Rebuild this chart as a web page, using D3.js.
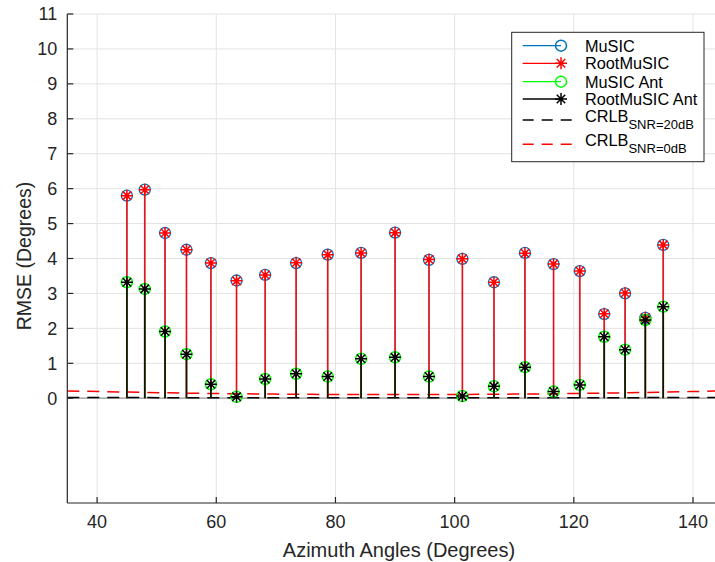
<!DOCTYPE html>
<html>
<head>
<meta charset="utf-8">
<script src="https://cdn.jsdelivr.net/npm/d3@7"></script>
<style>
  html, body { margin: 0; padding: 0; background: #fff; }
  svg { display: block; font-family: "Liberation Sans", Arial, Helvetica, sans-serif; }
</style>
</head>
<body>
<svg id="chart" width="715" height="562"></svg>
<script>
// ---- data ----
const angles = [45, 48, 51.4, 55, 59.1, 63.4, 68.2, 73.4, 78.7, 84.3, 90, 95.7, 101.3, 106.6, 111.8, 116.6, 121, 125.1, 128.6, 132, 135];
const music =        [5.80, 5.97, 4.73, 4.25, 3.87, 3.37, 3.53, 3.87, 4.11, 4.16, 4.74, 3.96, 3.99, 3.32, 4.16, 3.84, 3.64, 2.41, 3.00, 2.30, 4.39];
const rootMusic =    [5.80, 5.97, 4.73, 4.25, 3.87, 3.36, 3.53, 3.88, 4.11, 4.16, 4.74, 3.97, 3.99, 3.32, 4.15, 3.84, 3.64, 2.42, 3.01, 2.31, 4.39];
const musicAnt =     [3.32, 3.13, 1.91, 1.26, 0.40, 0.04, 0.55, 0.70, 0.62, 1.13, 1.17, 0.62, 0.06, 0.34, 0.89, 0.19, 0.38, 1.76, 1.39, 2.24, 2.62];
const rootMusicAnt = [3.32, 3.13, 1.91, 1.26, 0.40, 0.04, 0.55, 0.70, 0.62, 1.13, 1.17, 0.62, 0.06, 0.34, 0.89, 0.19, 0.38, 1.76, 1.39, 2.24, 2.62];
const crlbAngles = [35, 45, 55, 65, 75, 85, 95, 105, 115, 125, 135, 145];
const crlb20 = [0.021, 0.018, 0.015, 0.013, 0.012, 0.011, 0.011, 0.012, 0.013, 0.015, 0.018, 0.021];
const crlb0  = [0.21, 0.175, 0.145, 0.125, 0.112, 0.106, 0.106, 0.112, 0.125, 0.145, 0.175, 0.21];
const xTicks = [40, 60, 80, 100, 120, 140];
const yTicks = [0, 1, 2, 3, 4, 5, 6, 7, 8, 9, 10, 11];
const legendLabels = ["MuSIC", "RootMuSIC", "MuSIC Ant", "RootMuSIC Ant"];
const xLabel = "Azimuth Angles (Degrees)";
const yLabel = "RMSE (Degrees)";

// ---- layout ----
const svg = d3.select("#chart");
const L = 67.3, R = 722.8, T = 14, B = 503;
const x = d3.scaleLinear().domain([35, 145]).range([L, R]);
const y = d3.scaleLinear().domain([-3, 11]).range([B, T]);
const axisColor = "#262626";
const gridColor = "#e3e3e3";

const defs = svg.append("defs");
defs.append("clipPath").attr("id", "clip").append("rect")
  .attr("x", L).attr("y", T - 8).attr("width", R - L).attr("height", B - T + 8);

// grid
const grid = svg.append("g");
grid.selectAll(".gx").data(xTicks).join("line")
  .attr("x1", d => x(d)).attr("x2", d => x(d)).attr("y1", T).attr("y2", B)
  .attr("stroke", gridColor).attr("stroke-width", 1);
grid.selectAll(".gy").data(yTicks).join("line")
  .attr("x1", L).attr("x2", R).attr("y1", d => y(d)).attr("y2", d => y(d))
  .attr("stroke", gridColor).attr("stroke-width", 1);

const plot = svg.append("g").attr("clip-path", "url(#clip)");

// baseline
plot.append("line").attr("x1", L).attr("x2", R).attr("y1", y(0)).attr("y2", y(0))
  .attr("stroke", "#9a9a9a").attr("stroke-width", 1.2);

// CRLB lines
const line = d3.line().x((d, i) => x(crlbAngles[i])).y(d => y(d)).curve(d3.curveMonotoneX);
plot.append("path").attr("d", line(crlb20)).attr("fill", "none")
  .attr("stroke", "#000").attr("stroke-width", 1.5).attr("stroke-dasharray", "12,8");
plot.append("path").attr("d", line(crlb0)).attr("fill", "none")
  .attr("stroke", "#ff0000").attr("stroke-width", 1.5).attr("stroke-dasharray", "12,8");

function circleMarker(g, cx, cy, color, sw) {
  g.append("circle").attr("cx", cx).attr("cy", cy).attr("r", 5.5)
    .attr("fill", "none").attr("stroke", color).attr("stroke-width", sw);
}
function starMarker(g, cx, cy, color) {
  const s = 6, d = s * 0.707;
  const p = `M${cx - s},${cy}L${cx + s},${cy}M${cx},${cy - s}L${cx},${cy + s}` +
            `M${cx - d},${cy - d}L${cx + d},${cy + d}M${cx - d},${cy + d}L${cx + d},${cy - d}`;
  g.append("path").attr("d", p).attr("fill", "none").attr("stroke", color).attr("stroke-width", 1.5);
}

const series = [
  { vals: music, color: "#0072BD", marker: "o", stemW: 1.0, op: 1, mw: 1.3 },
  { vals: rootMusic, color: "#ff0000", marker: "*", stemW: 1.7, op: 0.85, mw: 1.5 },
  { vals: musicAnt, color: "#00ff00", marker: "o", stemW: 1.0, op: 1, mw: 1.5 },
  { vals: rootMusicAnt, color: "#000000", marker: "*", stemW: 1.7, op: 0.88, mw: 1.5 }
];

series.forEach(s => {
  const g = plot.append("g");
  g.selectAll("line").data(s.vals).join("line")
    .attr("x1", (d, i) => x(angles[i])).attr("x2", (d, i) => x(angles[i]))
    .attr("y1", y(0)).attr("y2", d => y(d))
    .attr("stroke", s.color).attr("stroke-width", s.stemW).attr("stroke-opacity", s.op);
  s.vals.forEach((v, i) => {
    if (s.marker === "o") circleMarker(g, x(angles[i]), y(v), s.color, s.mw);
    else starMarker(g, x(angles[i]), y(v), s.color);
  });
});

// axes
const ax = svg.append("g");
ax.append("line").attr("x1", L).attr("x2", L).attr("y1", T).attr("y2", B)
  .attr("stroke", axisColor).attr("stroke-width", 1.2);
ax.append("line").attr("x1", L).attr("x2", R).attr("y1", B).attr("y2", B)
  .attr("stroke", axisColor).attr("stroke-width", 1.2);
ax.selectAll(".ty").data(yTicks).join("line")
  .attr("x1", L).attr("x2", L + 6).attr("y1", d => y(d)).attr("y2", d => y(d))
  .attr("stroke", axisColor).attr("stroke-width", 1.2);
ax.selectAll(".tx").data(xTicks).join("line")
  .attr("x1", d => x(d)).attr("x2", d => x(d)).attr("y1", B).attr("y2", B - 6)
  .attr("stroke", axisColor).attr("stroke-width", 1.2);
ax.selectAll(".ly").data(yTicks).join("text")
  .attr("x", L - 10).attr("y", d => y(d)).attr("dy", "0.35em")
  .attr("text-anchor", "end").attr("font-size", 18).attr("fill", axisColor)
  .text(d => d);
ax.selectAll(".lx").data(xTicks).join("text")
  .attr("x", d => x(d)).attr("y", 528)
  .attr("text-anchor", "middle").attr("font-size", 18).attr("fill", axisColor)
  .text(d => d);
svg.append("text").attr("x", 399).attr("y", 557).attr("text-anchor", "middle")
  .attr("font-size", 20).attr("fill", axisColor).text(xLabel);
svg.append("text").attr("transform", "translate(31,256) rotate(-90)")
  .attr("text-anchor", "middle").attr("font-size", 19.5).attr("fill", axisColor).text(yLabel);

// legend
const lg = svg.append("g");
lg.append("rect").attr("x", 511.7).attr("y", 32.3).attr("width", 192.3).attr("height", 129.4)
  .attr("fill", "#fff").attr("stroke", axisColor).attr("stroke-width", 1);
const rowsY = [45.7, 63.3, 81.7, 99];
series.forEach((s, i) => {
  const yy = rowsY[i];
  lg.append("line").attr("x1", 522.7).attr("x2", 561).attr("y1", yy).attr("y2", yy)
    .attr("stroke", s.color).attr("stroke-width", 1.3);
  if (s.marker === "o") circleMarker(lg, 561, yy, s.color, 1.5);
  else starMarker(lg, 561, yy, s.color);
  lg.append("text").attr("x", 585).attr("y", yy).attr("dy", "0.36em")
    .attr("font-size", 16.3).attr("fill", "#000").text(legendLabels[i]);
});
const crlbRows = [{ y: 120, color: "#000", sub: "SNR=20dB" }, { y: 144.3, color: "#ff0000", sub: "SNR=0dB" }];
crlbRows.forEach(r => {
  lg.append("line").attr("x1", 522.7).attr("x2", 577).attr("y1", r.y).attr("y2", r.y)
    .attr("stroke", r.color).attr("stroke-width", 1.5).attr("stroke-dasharray", "11,8");
  const t = lg.append("text").attr("x", 585).attr("y", r.y + 1.5)
    .attr("font-size", 16.3).attr("fill", "#000");
  t.append("tspan").text("CRLB");
  t.append("tspan").attr("font-size", 13).attr("dy", 7.5).text(r.sub);
});
</script>
</body>
</html>
